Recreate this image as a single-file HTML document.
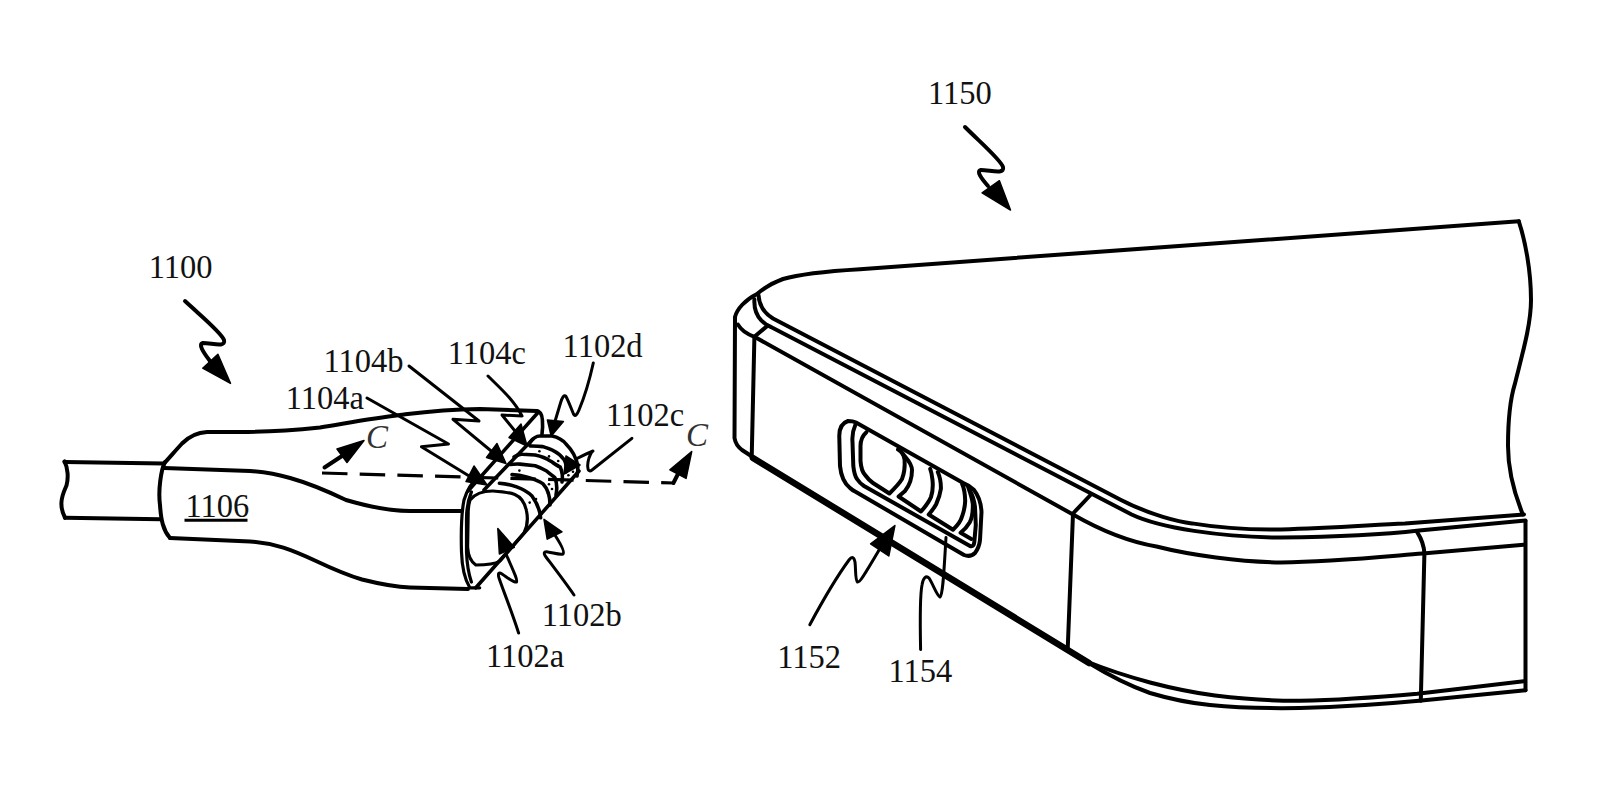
<!DOCTYPE html>
<html><head><meta charset="utf-8">
<style>
html,body{margin:0;padding:0;background:#fff;}
body{width:1600px;height:789px;overflow:hidden;}
svg{display:block;}
.t{font-family:"Liberation Serif",serif;font-size:32.5px;fill:#111;}
.ci{font-family:"Liberation Serif",serif;font-size:33px;font-style:italic;fill:#333;}
</style></head><body>
<svg width="1600" height="789" viewBox="0 0 1600 789">
<g fill="none" stroke="#000" stroke-width="4" stroke-linecap="round" stroke-linejoin="round">
<!-- cable -->
<path d="M64.5,462 L164,463.5"/>
<path d="M64.5,461.4 C68,468 68.5,478 66.5,485.5 C64.5,490 61.5,496 61.4,503 C61.3,509 63,514 65,517.8"/>
<path d="M65,517.8 L160.5,519.2"/>
<!-- boot -->
<path d="M165,462 C161,470 158,490 160,505 C161,520 163,530 170,538"/>
<path d="M164.5,463 C170,457 176,450 182,443.5 C188,437.5 196,432.5 207,432 L240,432 C270,432 295,430 320,427.5 C345,423.5 370,418.5 400,415 C420,412.5 440,409.5 480,409 L537,411"/>
<path d="M164,468 L250,471 C275,473 300,478 346,500 C370,507 390,511 410,511 L461,511"/>
<path d="M170,538 C200,539.5 230,540.5 250,541.5 C275,543 292,550 316,561 C335,570 350,576 362,579.5 C380,584 395,587 410,587.5 L468,589"/>
<!-- arrows -->
<path d="M185,301 C200,315 222,333 224,340 C226,348 212,343 203,343 C198,344 203,352 210,361"/>
<path d="M965,127 C980,142 1001,160 1003,167 C1005,175 990,170 981,170 C976,171 981,178 988,186"/>
<!-- leaders -->
<path stroke-width="3" d="M409,366 L479,421 L453,419.3 L496,455"/>
<path stroke-width="3" d="M367,398 L448.5,444 L421.4,446.7 L474,479"/>
<path stroke-width="3" d="M488,376 C500,388 514,400 522,416 L502,415 L519,436"/>
<path stroke-width="3" d="M593.3,363 C590,378 584,398 579,410 C577,415 575,417 573.5,414 C571,408 568,400 566,396.5 C564,394 562,398 560.5,403 L553,428"/>
<path stroke-width="3" d="M631.9,438.3 L592,470 C588,473 587,468 588,462 C589,456 592,451 593,451 C590,452 584,455 576,459"/>
<path stroke-width="3" d="M574,595 C565,582 552,565 546,557 C543,553 544,551 548,552 C554,553 560,555 563,554 C565,552 560,543 555.5,536"/>
<path stroke-width="3" d="M518.6,633 C512,612 503,590 499,578 C497.5,573 499,572 502,574 C508,578 514,583 516.5,582 C518,580 512,568 506,554"/>
<path stroke-width="3" d="M809.8,624.7 C822,602 838,575 849,560 C852,556 854,557 855,562 C856,570 855,580 857.5,582 C860,583 866,572 885,540"/>
<path stroke-width="3" d="M920.6,649.5 C920,620 920,595 922,585 C923,578 926,575 929,578 C933,584 937,596 940,597 C943,595 944,570 946,537.5"/>
<!-- connector head -->
<g stroke-width="3.6">
<path d="M536,410.8 C540,411 542,414 542.4,420 L542.6,427 L542,434"/>
<path d="M538,412.5 L468,491"/>
<path d="M533,439 L484,490"/>
<path d="M579,471 L475.8,587.8"/>
<path d="M529.9,442.8 C533,438 536,436 540,436 L552,436 C557,437 562,439 566,444 C571,449 576,456 577.8,465.7 C578,470 578,472 577,476"/>
<path d="M529.9,445.9 C534,446 538,446 542.8,446.6 C547,448 551,449 554.2,451.2 C558,453 562,457 564.1,459.6 C566,463 567,467 566,472"/>
<path d="M514,457 C517,455 520,454 522.3,454.2 L535.2,455 C540,456 546,458 550.4,461.1 C555,464 558,466 560.3,467.2 C562,471 563,476 562,482"/>
<path d="M510,464.5 C514,464 518,464 520,464.1 L535.2,465.7 C539,467 543,469 546.6,471 C550,474 553,476 555,477.8 C557,483 557,490 556,495"/>
<path d="M512,474.6 C520,475 535,478 543.1,483.9 C548,489 550,497 550,505"/>
<path d="M499.4,483.2 C510,484 524,488 532,496 C537,503 540,510 540.6,517.8"/>
</g>
<path stroke-width="3.2" d="M478,478 C472,482 467,490 464,500 C461,515 461,535 461.5,552 C462,568 464,578 469.8,587.8 L479.7,587.8"/>
<path stroke-width="3.2" d="M471.4,492 C468,500 466.5,510 466.5,519 L466.5,552 C467,565 469,575 471.4,582"/>
<path stroke-width="3.2" d="M470,500 C474,495 482,491 492.5,491 C500,491.5 508,492 514.8,494.4 C521,497 525,503 526.5,511 C528,518 527.5,526 524,533 L500,561 C495,564 485,565 475.8,565 C470,561 468,554 467.6,547 L468.2,511 C468.5,506 469,503 470,500"/>
<!-- C arrows -->
<path d="M324.5,467.5 L345,454"/>
<path d="M673.4,483 L680,470"/>
</g>
<g fill="none" stroke="#000" stroke-width="3.2" stroke-dasharray="25.5,12.2">
<path d="M322,473 L673.4,483"/>
</g>
<g fill="#000"><circle cx="539.4" cy="451.2" r="1.3"/><circle cx="549.0" cy="456.4" r="1.3"/><circle cx="558.2" cy="461.0" r="1.3"/><circle cx="549.0" cy="484.3" r="1.3"/><circle cx="547.9" cy="493.4" r="1.3"/><circle cx="529.7" cy="502.6" r="1.3"/><circle cx="519.4" cy="470.6" r="1.3"/><circle cx="568.4" cy="475.2" r="1.3"/><circle cx="573.0" cy="471.8" r="1.3"/><circle cx="566.2" cy="485.5" r="1.3"/><circle cx="536.0" cy="499.0" r="1.3"/><circle cx="552.0" cy="489.0" r="1.3"/></g>
<!-- arrowheads -->
<g fill="#000" stroke="#000" stroke-width="1.5" stroke-linejoin="round">
<polygon points="230.5,383.4 202.7,368.2 217.9,354.2"/>
<polygon points="1010.5,210 982.1,192.8 999.4,180.7"/>
<polygon points="364,440.5 337,449 347,462.5"/>
<polygon points="691.7,451.5 669.9,469.8 686.1,478.4"/>
<polygon points="497.8,528.5 499.4,554 514.3,547.4"/>
<polygon points="544,519.4 547.2,539.2 562,531.8"/>
<polygon points="551.2,436 547.4,420 563.4,421.5"/>
<polygon points="894.9,525.6 870.6,543.8 888.8,556"/>
<polygon points="527,446 509,437.5 521,424"/>
<polygon points="506,463.5 486.5,457.5 497,443.5"/>
<polygon points="487,485 466,481.5 474,466"/>
<polygon points="564,474 566,456 580,465"/>
</g>
<!-- phone -->
<g fill="none" stroke="#000" stroke-width="4" stroke-linecap="round" stroke-linejoin="round">
<path d="M1518.8,221.3 L860,269.2 C830,271 800,274 783,279 C772,283 764,288 757,294 C745,300 737,309 735,317 L734.5,438 C735.5,444 738,447 742,450 L752,456.5"/>
<path d="M1518.8,221.3 C1525,240 1531,270 1531,300 C1531,325 1522,355 1514.8,384.2 C1510,400 1508,420 1508,445.9 C1508,470 1515,495 1522.8,514.4"/>
<path d="M758.5,295 C759,305 764,313 773,318.5 L1121,500 C1150,515 1180,522 1192,523.4 C1220,528 1250,530 1281,529.4 C1330,528 1370,525 1405,523.4 L1524,514.5"/>
<path d="M754.4,299.3 C754,307 756,315 761.5,320.6 C765,324 768,326 771,327 L1131.6,514.5 C1160,528 1220,537 1281,537.6 C1330,537 1380,535 1419,530.5 L1525.5,520.5"/>
<path d="M738,324.6 C741,330 747,334 754.4,336.8 L1073,514.5 C1100,530 1130,542 1156.5,546.5 C1190,555 1240,562 1281,562.4 C1330,562 1380,557 1422.6,553.6 L1523.7,544.7"/>
<path d="M754.4,336.8 L767.6,325.6"/>
<path d="M754.4,336.8 L751.7,457.7"/>
<path d="M1090.5,495 L1073,513.5 L1067.7,649.4"/>
<path d="M1417.3,532.3 C1421,538 1424,545 1424.4,553.6 L1420.8,700.8"/>
<path d="M1525.5,520.9 L1525.5,690.2"/>
<path d="M1088,662.5 C1110,676 1130,686 1150,693 C1170,699 1190,703 1210,705 C1240,708 1270,708.5 1300,708 C1340,707 1380,704.5 1419,700.8 L1525.5,690.2"/>
<path d="M1088,662 C1110,671 1130,677 1150,682.5 C1175,689 1195,693 1215,695.5 C1245,699 1275,701 1300,700.8 C1340,700 1380,697 1417.3,693.7 L1523.7,681.3"/>
<!-- port -->
<path d="M848,421 C842,423 839,429 839.3,437 L840,466 C841,476 845,484 850,488 C852,490 854,491 856,492 L964,555 C968,556.5 972,556 975,553 C978,549 979.5,545 980,540 L981.5,512 C981,502 978,495 974,490 C971,487 968,485 965,484 L856,422.6 C853,421 851,421 848,421 Z"/>
<path d="M855.3,425 C853,430 852,436 852.5,442 L853.3,466 C854,472 855.5,477 857,479 C859,482 861,484 864,486 L970,546 C973,547 974,545 974.3,542 L975.8,525 L975,507 C974,499 972,494 970,491"/>
<path d="M866.4,432.2 C862,436 860.5,441 860.5,446 L860.5,461 C861,468 863,473 865.5,475.5 C868,479 870,481 873,483 L889.4,493.5 C894,489 899,484 902,479 C904,474 905,467 904.6,460 C904,455 901,451 897.9,449.5"/>
<path d="M902.8,453.7 C906,458 912,463 912,470 C912,478 909,486 905,491 L898.6,496.5 L921,511.5 C925,507 929,502 931,497 C933,491 933,485 932.5,480 C932,475 931,471 930.2,468.9"/>
<path d="M937.8,472 C940,477 941,483 940.9,488.7 C940,495 938,500 936.3,503.9 C934,508 931,512 928.7,514.5 L953,529.8 C957,526 961,521 962.2,516.1 C964,511 965,506 965.2,500.9 C965,493 964,488 962.2,484.1"/>
<path d="M968.2,487.2 C970,492 972,498 972.8,503.9 C973,512 972,518 969.8,522.2 C967,527 964,530 960.6,532.8 L971.3,538.9"/>
</g>
<path d="M753,458 L1089,663" fill="none" stroke="#000" stroke-width="6.5" stroke-linecap="round"/>
<!-- labels -->
<text class="t" transform="translate(148.7,277.6) scale(1,1.05)" x="0" y="0">1100</text>
<text class="t" transform="translate(323.4,371.5) scale(1,1.05)" x="0" y="0">1104b</text>
<text class="t" transform="translate(285.7,409.2) scale(1,1.05)" x="0" y="0">1104a</text>
<text class="t" transform="translate(447.8,364.1) scale(1,1.05)" x="0" y="0">1104c</text>
<text class="t" transform="translate(562.6,356.9) scale(1,1.05)" x="0" y="0">1102d</text>
<text class="t" transform="translate(605.9,425.6) scale(1,1.05)" x="0" y="0">1102c</text>
<text class="t" transform="translate(541.7,626.3) scale(1,1.05)" x="0" y="0">1102b</text>
<text class="t" transform="translate(485.9,666.9) scale(1,1.05)" x="0" y="0">1102a</text>
<text class="t" transform="translate(928.0,104.2) scale(1,1.05)" x="0" y="0">1150</text>
<text class="t" transform="translate(777.3,667.9) scale(1,1.05)" x="0" y="0">1152</text>
<text class="t" transform="translate(888.5,681.6) scale(1,1.05)" x="0" y="0">1154</text>
<text class="t" transform="translate(185.4,517.3) scale(1,1.05)" x="0" y="0">1106</text>
<path d="M184.5,520.2 L247.5,520.2" stroke="#000" stroke-width="3"/>
<text class="ci" x="366" y="448">C</text>
<text class="ci" x="686" y="446">C</text>
</svg>
</body></html>
